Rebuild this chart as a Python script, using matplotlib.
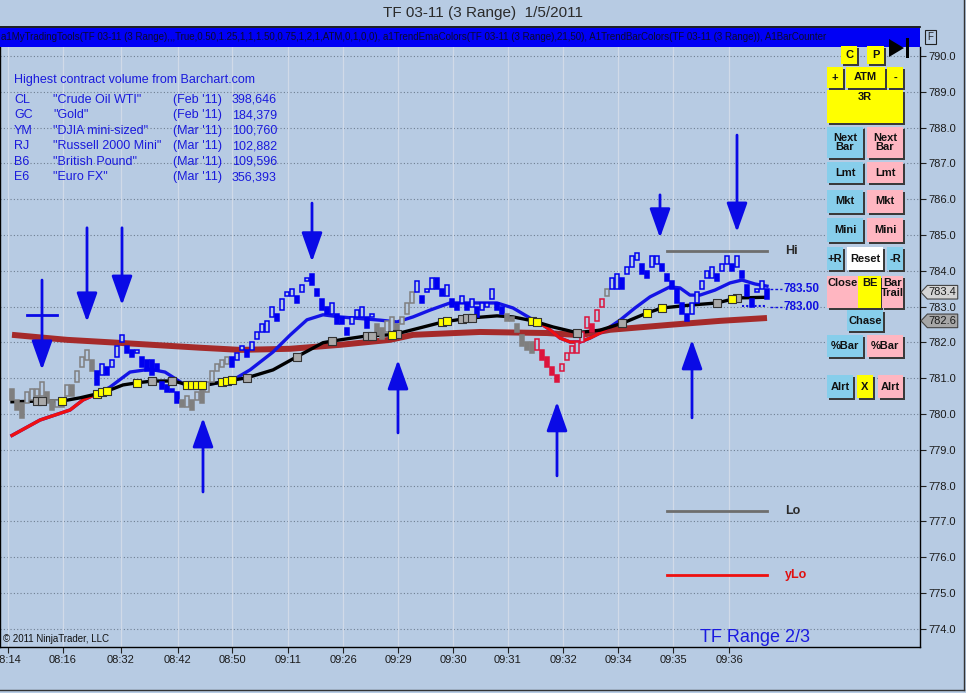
import numpy as np
import matplotlib
matplotlib.use("Agg")
import matplotlib.pyplot as plt
from matplotlib import font_manager
from matplotlib.patches import Rectangle, Polygon
from matplotlib.transforms import blended_transform_factory

names_installed = set(f.name for f in font_manager.fontManager.ttflist)
base_font = 'Liberation Sans' if 'Liberation Sans' in names_installed else 'DejaVu Sans'
narrow_font = 'Liberation Sans Narrow' if 'Liberation Sans Narrow' in names_installed else base_font
plt.rcParams['font.family'] = [base_font, 'DejaVu Sans']

# ---- data ----
# range bar bodies (top / bottom of each candle)
body_hi = [780.7,780.4,780.3,780.6,780.7,780.7,780.9,780.6,780.4,780.4,
           780.3,780.8,780.8,781.2,781.6,781.8,781.5,781.2,781.4,781.3,
           781.5,781.9,782.2,781.9,781.8,781.8,781.6,781.5,781.5,781.4,
           780.9,780.8,780.7,780.6,780.4,780.5,780.4,780.6,780.7,780.9,
           781.2,781.4,781.5,781.6,781.6,781.7,781.9,781.8,782.0,782.3,
           782.5,782.6,783.0,782.8,783.2,783.4,783.5,783.3,783.6,783.8,
           783.9,783.5,783.2,783.0,783.1,782.8,782.7,782.4,782.7,782.9,
           783.0,782.7,782.8,782.5,782.4,782.6,782.7,782.5,782.7,783.1,
           783.4,783.7,783.3,783.5,783.8,783.8,783.5,783.6,783.2,783.1,
           783.3,783.1,783.2,783.0,783.1,783.1,783.5,783.1,783.0,782.8,
           782.7,782.5,782.2,782.0,782.0,782.1,781.8,781.6,781.3,781.1,
           781.4,781.7,781.9,782.0,782.3,782.7,782.5,782.9,783.2,783.5,
           783.8,783.9,783.8,784.1,784.4,784.5,784.2,784.0,784.4,784.4,
           784.2,783.9,783.7,783.5,783.1,782.8,783.1,783.4,783.7,784.0,
           784.1,783.9,784.2,784.4,784.2,784.4,784.0,783.6,783.2,783.5,
           783.7,783.5]
body_lo = [780.4,780.1,779.9,780.3,780.4,780.5,780.5,780.3,780.1,780.2,
           780.2,780.5,780.5,780.9,781.3,781.5,781.2,780.8,781.1,781.1,
           781.3,781.6,782.0,781.7,781.6,781.7,781.3,781.2,781.1,781.2,
           780.7,780.6,780.6,780.3,780.2,780.2,780.1,780.4,780.3,780.6,
           780.9,781.2,781.3,781.4,781.3,781.5,781.8,781.6,781.8,782.1,
           782.3,782.3,782.7,782.6,782.9,783.3,783.3,783.1,783.4,783.7,
           783.6,783.3,782.9,782.8,782.8,782.5,782.5,782.2,782.5,782.7,
           782.7,782.4,782.7,782.2,782.1,782.3,782.3,782.3,782.5,782.8,
           783.1,783.4,783.1,783.4,783.5,783.5,783.3,783.3,783.0,782.9,
           783.1,782.9,783.0,782.7,782.9,783.0,783.2,782.9,782.8,782.6,
           782.6,782.3,781.9,781.8,781.7,781.8,781.5,781.3,781.1,780.9,
           781.2,781.5,781.7,781.7,782.0,782.4,782.3,782.6,783.0,783.3,
           783.5,783.5,783.5,783.9,784.1,784.3,783.9,783.8,784.1,784.2,
           784.0,783.7,783.5,783.1,782.8,782.6,782.8,783.1,783.5,783.8,
           783.8,783.7,784.0,784.2,784.0,784.1,783.8,783.3,783.0,783.4,
           783.5,783.2]
# trend colour runs of the bars (first bar, last bar, colour key)
bar_runs = [(0, 16, 'gray'), (17, 33, 'blue'), (34, 43, 'gray'), (44, 72, 'blue'),
            (73, 80, 'gray'), (81, 98, 'blue'), (99, 104, 'gray'), (105, 118, 'red'),
            (119, 119, 'gray'), (120, 151, 'blue')]

# fast EMA (blue / red), slow EMA (black), long average (brown)
fast_x = [0, 5.6, 11.6, 14.2, 17.6, 19.6, 23.6, 27.6, 30.6, 34.6, 37.6, 41.6, 44.2, 47.6,
          52.2, 55.6, 59, 62.2, 65.6, 73.6, 77, 80.2, 83.6, 87.6, 93.6, 97, 100.2, 103.6,
          105.6, 107.6, 109.6, 111.6, 113.6, 115.6, 117.6, 119.6, 121.6, 124.6, 127.6,
          131.6, 133.6, 135.6, 137.6, 140.6, 143.6, 146, 148.6, 151]
fast_y = [779.40, 779.83, 780.11, 780.39, 780.60, 780.75, 781.17, 781.25, 781.17, 780.81,
          780.81, 780.87, 780.95, 781.23, 781.73, 782.20, 782.63, 782.77, 782.71, 782.62,
          782.57, 782.71, 782.90, 783.10, 783.10, 783.10, 782.96, 782.68, 782.54, 782.35,
          782.12, 782.01, 782.01, 782.12, 782.26, 782.43, 782.62, 782.96, 783.27, 783.55,
          783.52, 783.32, 783.32, 783.46, 783.66, 783.74, 783.63, 783.57]
fast_red_spans = [(0, 17.6), (105.6, 119.6)]

slow_x = [0, 5.6, 10, 13.6, 17, 19.6, 22.2, 25, 28.2, 32.2, 35.6, 39, 42.2, 47, 52.2, 57,
          62.2, 64.2, 71, 75.6, 77, 86.2, 91.6, 97, 100.2, 104.2, 108.2, 113, 117.6, 122.2,
          127, 130, 135.6, 141, 145, 151]
slow_y = [780.34, 780.36, 780.36, 780.45, 780.56, 780.67, 780.81, 780.87, 780.92, 780.92,
          780.80, 780.81, 780.90, 781.01, 781.23, 781.60, 781.99, 782.04, 782.18, 782.21,
          782.24, 782.57, 782.68, 782.74, 782.71, 782.60, 782.43, 782.27, 782.34, 782.54,
          782.82, 782.96, 783.04, 783.10, 783.24, 783.26]
slow_yellow = [10, 17, 18, 19, 25, 35, 36, 37, 38, 42, 43, 44, 76, 86, 87, 104, 105, 127, 130, 144]
slow_gray = [5, 6, 28, 32, 47, 57, 64, 71, 72, 77, 90, 91, 92, 113, 122, 141, 145]

sma_x = [0, 11, 21, 37.6, 45.6, 55.6, 65.6, 75.6, 80.2, 93.6, 107, 113.6, 119.6, 131.6, 141.6, 151]
sma_y = [782.21, 782.07, 781.99, 781.85, 781.79, 781.82, 781.93, 782.07, 782.21, 782.29,
         782.26, 782.20, 782.35, 782.49, 782.60, 782.68]

# hand drawn arrows: (bar, tail price, tip price)
down_arrows = [(6, 783.74, 781.23), (15, 785.20, 782.57), (22, 785.20, 783.04),
               (60, 785.89, 784.25), (129.6, 786.12, 784.92), (145, 787.79, 785.08)]
up_arrows = [(38.2, 777.82, 779.89), (77.2, 779.47, 781.51), (109, 778.27, 780.34),
             (136, 779.89, 782.07)]

hi_level, lo_level, ylo_level = 784.55, 777.29, 775.50
target_levels = [783.50, 783.00]
last_price, sma_last = 783.4, 782.6

time_pos = [-0.8, 10.2, 21.8, 33.2, 44, 55.2, 66.2, 77.2, 88.2, 99.2, 110.2, 121.2, 132.2, 143.4]
time_labels = ['08:14', '08:16', '08:32', '08:42', '08:50', '09:11', '09:26', '09:29',
               '09:30', '09:31', '09:32', '09:34', '09:35', '09:36']

vol_sym = ['CL', 'GC', 'YM', 'RJ', 'B6', 'E6']
vol_name = ['"Crude Oil WTI"', '"Gold"', '"DJIA mini-sized"', '"Russell 2000 Mini"',
            '"British Pound"', '"Euro FX"']
vol_month = ["(Feb '11)", "(Feb '11)", "(Mar '11)", "(Mar '11)", "(Mar '11)", "(Mar '11)"]
vol_qty = ['398,646', '184,379', '100,760', '102,882', '109,596', '356,393']

# ---- figure ----
BG = '#B7CBE3'
cols = {'gray': '#7F7F7F', 'blue': '#0000F0', 'red': '#DC143C'}
W, H = 966, 693
fig = plt.figure(figsize=(W / 100, H / 100), dpi=100, facecolor=BG)
ax = fig.add_axes([0, 46 / H, 920 / W, 600 / H], facecolor=BG)
ax.set_xlim(-2.4, 181.6)
ax.set_ylim(773.49, 790.25)

for p in range(774, 791):
    ax.axhline(p, color='#6F7F92', lw=0.8, ls=(0, (1, 2)), zorder=0)
for t in time_pos:
    ax.axvline(t, color='#D0DAE8', lw=0.9, zorder=0)

# long average, slow EMA, fast EMA
ax.plot(sma_x, sma_y, color='#A52A2A', lw=4.3, solid_capstyle='butt', zorder=2)
ax.plot(slow_x, slow_y, color='black', lw=2.4, zorder=4)
ax.plot(fast_x, fast_y, color='#1414E6', lw=2.4, zorder=3)
fx = np.array(fast_x)
fy = np.array(fast_y)
for a, b in fast_red_spans:
    m = (fx >= a) & (fx <= b)
    ax.plot(fx[m], fy[m], color='#F01010', lw=2.4, zorder=3)

# candles
n = len(body_hi)
colour_of = [None] * n
for a, b, key in bar_runs:
    for i in range(a, b + 1):
        colour_of[i] = cols[key]
mids = [(h + l) / 2 for h, l in zip(body_hi, body_lo)]
for i in range(n):
    up = i > 0 and mids[i] > mids[i - 1]
    c = colour_of[i]
    ax.add_patch(Rectangle((i - 0.45, body_lo[i]), 0.9, body_hi[i] - body_lo[i],
                           facecolor=BG if up else c, edgecolor=c, lw=1.1, zorder=5))

# markers on the slow EMA
for idx, fc in [(slow_gray, '#A9A9A9'), (slow_yellow, '#FFFF00')]:
    ax.scatter(idx, np.interp(idx, slow_x, slow_y), marker='s', s=30, facecolor=fc,
               edgecolor='#333333', lw=0.8, zorder=6)

# arrows
ac = '#0A0AE6'
for bx, y0, y1 in down_arrows + up_arrows:
    ax.annotate('', xy=(bx, y1), xytext=(bx, y0),
                arrowprops=dict(arrowstyle='-|>,head_length=0.9,head_width=0.32',
                                mutation_scale=20, color=ac, lw=2, shrinkA=0, shrinkB=0),
                zorder=7)
ax.plot([3, 9], [782.77, 782.77], color=ac, lw=2, zorder=7)

# hi / lo levels
ax.plot([131, 151], [hi_level] * 2, color='#6E6E6E', lw=2)
ax.plot([131, 151], [lo_level] * 2, color='#6E6E6E', lw=2)
ax.plot([131, 151], [ylo_level] * 2, color='#EE1010', lw=2)
ax.text(154.6, hi_level, 'Hi', color='#2A2A2A', fontsize=9, fontweight='bold', va='center')
ax.text(154.6, lo_level, 'Lo', color='#2A2A2A', fontsize=9, fontweight='bold', va='center')
ax.text(154.6, ylo_level, 'yLo', color='#E01010', fontsize=9, fontweight='bold', va='center')

for lv in target_levels:
    ax.plot([151.5, 154], [lv, lv], color='#1010E0', lw=1, ls=(0, (2, 1.5)))
    ax.text(154.3, lv, '%.2f' % lv, color='#1010E0', fontsize=8.5, fontweight='bold', va='center')
ax.plot([146, 151], [783.02, 783.02], color='#1010E0', lw=1.5, ls=(0, (1, 1)))

# axes decoration
ax.yaxis.tick_right()
ax.set_yticks(range(774, 791))
ax.set_yticklabels(['%.1f' % v for v in range(774, 791)], fontsize=8, family=narrow_font,
                   color='#1A1A1A')
ax.set_xticks(time_pos)
ax.set_xticklabels(time_labels, fontsize=8, family=narrow_font, color='#1A1A1A')
ax.tick_params(axis='both', direction='out', length=4, width=0.8, color='#222222', pad=2)
for s in ['left', 'right', 'bottom']:
    ax.spines[s].set_color('black')
    ax.spines[s].set_linewidth(1)
ax.spines['top'].set_visible(False)

bt = blended_transform_factory(ax.transAxes, ax.transData)
for price, fc in [(last_price, '#D4D4D4'), (sma_last, '#A6A6A6')]:
    ax.add_patch(Polygon([(1.001, price), (1.008, price + 0.19), (1.041, price + 0.19),
                          (1.041, price - 0.19), (1.008, price - 0.19)], closed=True,
                         transform=bt, clip_on=False, facecolor=fc, edgecolor='#444444',
                         lw=0.8, zorder=8))
    ax.text(1.009, price, '%.1f' % price, transform=bt, fontsize=8, family=narrow_font,
            va='center', color='#1A1A1A', zorder=9, clip_on=False)

# volume table
tc = '#1A1ADC'
ax.text(14 / 920, 1 - 33 / 600, 'Highest contract volume from Barchart.com', transform=ax.transAxes,
        color=tc, fontsize=9, va='center')
for k in range(len(vol_sym)):
    yy = 1 - (53 + k * 15.4) / 600
    ax.text(14 / 920, yy, vol_sym[k], transform=ax.transAxes, color=tc, fontsize=9, va='center')
    ax.text(53 / 920, yy, vol_name[k], transform=ax.transAxes, color=tc, fontsize=9, va='center')
    ax.text(173 / 920, yy, vol_month[k], transform=ax.transAxes, color=tc, fontsize=9, va='center')
    ax.text(232 / 920, yy, vol_qty[k], transform=ax.transAxes, color=tc, fontsize=9, va='center')

ax.text(3 / 920, 8 / 600, '\u00a9 2011 NinjaTrader, LLC', transform=ax.transAxes, fontsize=7,
        family=narrow_font, color='#111111', va='center')
ax.text(700 / 920, 9 / 600, 'TF Range 2/3', transform=ax.transAxes, fontsize=13,
        color='#1A1AE0', va='center')

# ---- window chrome in pixel coordinates ----
ui = fig.add_axes([0, 0, 1, 1], zorder=10)
ui.set_xlim(0, W)
ui.set_ylim(H, 0)
ui.axis('off')
ui.patch.set_alpha(0)

ui.text(483, 13, 'TF 03-11 (3 Range)  1/5/2011', ha='center', va='center', fontsize=11,
        family=narrow_font, color='#2A2A2A')
ui.plot([0, 920], [27, 27], color='black', lw=1.2)
ui.add_patch(Rectangle((0, 28), 920, 19, facecolor='#0000F5', edgecolor='none'))
banner = ui.text(1, 37.5, 'a1MyTradingTools(TF 03-11 (3 Range),,,True,0.50,1.25,1,1,1.50,0.75,1,2,1,ATM,0,1,0,0), '
                 'a1TrendEmaColors(TF 03-11 (3 Range),21,50), A1TrendBarColors(TF 03-11 (3 Range)), A1BarCounter',
                 va='center', fontsize=7, family=narrow_font, color='#0A0A30')
banner.set_clip_path(Rectangle((0, 28), 920, 19, transform=ui.transData))
ui.add_patch(Rectangle((925, 30), 11, 14, facecolor=BG, edgecolor='#222222', lw=0.8))
ui.text(930.5, 37, 'F', ha='center', va='center', fontsize=7, color='#222222')
ui.add_patch(Polygon([(889, 39), (904, 48), (889, 57)], closed=True, facecolor='black'))
ui.add_patch(Rectangle((905.5, 38), 3, 20, facecolor='black'))
ui.plot([964, 964], [0, 690], color='#333333', lw=1)
ui.plot([0, 964], [690, 690], color='#333333', lw=1)

Y, B, P = '#FFFF00', '#87CEEB', '#FFB6C1'
buttons = [
    (841, 46, 857, 64, 'C', Y, 'c'), (867, 46, 884, 64, 'P', Y, 'c'),
    (827, 67, 843, 88, '+', Y, 'c'), (846, 67, 885, 88, 'ATM', Y, 'c'), (887, 67, 903, 88, '-', Y, 'c'),
    (827, 90, 903, 123, '3R', Y, 't'),
    (827, 127, 863, 158, 'Next\nBar', B, 'c'), (867, 127, 903, 158, 'Next\nBar', P, 'c'),
    (827, 162, 863, 183, 'Lmt', B, 'c'), (867, 162, 903, 183, 'Lmt', P, 'c'),
    (827, 190, 863, 213, 'Mkt', B, 'c'), (867, 190, 903, 213, 'Mkt', P, 'c'),
    (827, 218, 863, 242, 'Mini', B, 'c'), (867, 218, 903, 242, 'Mini', P, 'c'),
    (827, 247, 843, 270, '+R', B, 'c'), (847, 247, 883, 270, 'Reset', 'white', 'c'),
    (887, 247, 903, 270, '-R', B, 'c'),
    (827, 276, 858, 308, 'Close', P, 't'), (858, 276, 881, 308, 'BE', Y, 't'),
    (882, 276, 903, 308, 'Bar\nTrail', P, 't'),
    (847, 310, 883, 331, 'Chase', B, 'c'),
    (827, 335, 863, 357, '%Bar', B, 'c'), (867, 335, 903, 357, '%Bar', P, 'c'),
    (827, 375, 853, 398, 'Alrt', B, 'c'), (857, 375, 873, 398, 'X', Y, 'c'), (878, 375, 903, 398, 'Alrt', P, 'c'),
]
for x0, y0, x1, y1, lab, fc, al in buttons:
    ui.add_patch(Rectangle((x0 + 1.5, y0 + 1.5), x1 - x0, y1 - y0, facecolor='#3A3A3A', edgecolor='none'))
    ui.add_patch(Rectangle((x0, y0), x1 - x0, y1 - y0, facecolor=fc, edgecolor='none'))
    ty = (y0 + y1) / 2 if al == 'c' else y0 + 2
    txt = ui.text((x0 + x1) / 2, ty, lab, ha='center', va='center' if al == 'c' else 'top',
                  fontsize=8, fontweight='bold', color='#111111', linespacing=0.95)
    txt.set_clip_path(Rectangle((x0, y0), x1 - x0 + 4, y1 - y0, transform=ui.transData))

fig.savefig('out.png', dpi=100, facecolor=BG)
